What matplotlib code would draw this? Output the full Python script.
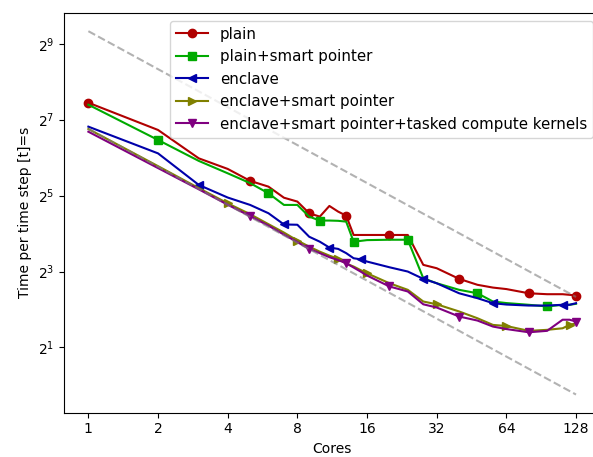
import numpy as np
import matplotlib
matplotlib.use("Agg")
import matplotlib.pyplot as plt

OUT_FILE = "out.png"

cores = [1, 2, 3, 4, 5, 6, 7, 8, 9, 10, 11, 12, 13, 14, 15, 16,
         20, 24, 28, 32, 40, 48, 56, 64, 80, 96, 112, 120, 128]

# time per time step in seconds
plain = [174.5, 106.1, 63.2, 52.1, 41.9, 37.7, 30.8, 28.7, 23.2, 21.8,
         26.5, 23.9, 22.2, 15.6, 15.6, 15.6, 15.6, 15.6, 9.04, 8.50,
         7.00, 6.28, 5.97, 5.81, 5.38, 5.29, 5.29, 5.23, 5.16]
plain_smart = [168.3, 88.4, 60.3, 48.1, 40.2, 33.4, 27.0, 27.0, 21.8, 20.3,
               20.3, 20.2, 19.9, 13.8, 14.0, 14.2, 14.3, 14.3, 7.08, 6.46,
               5.73, 5.38, 4.63, 4.50, 4.36, 4.23, 4.36, 4.36, 4.44]
enclave = [112.7, 69.2, 38.9, 30.9, 27.0, 23.2, 18.9, 18.8, 15.1, 13.8,
           12.4, 12.1, 11.2, 10.2, 10.0, 9.60, 8.65, 8.00, 7.00, 6.46,
           5.38, 4.92, 4.49, 4.38, 4.30, 4.30, 4.36, 4.36, 4.49]
enclave_smart = [108.0, 54.8, 36.7, 27.8, 22.8, 19.0, 16.3, 14.1, 12.6, 11.5,
                 10.7, 10.1, 9.26, 8.77, 8.22, 7.75, 6.46, 5.73, 4.63, 4.40,
                 3.86, 3.41, 3.02, 2.96, 2.71, 2.76, 2.84, 3.02, 3.11]
enclave_tasked = [102.8, 52.9, 35.9, 27.1, 22.0, 18.5, 15.7, 13.7, 12.1, 11.2,
                  10.4, 9.87, 9.31, 8.61, 8.00, 7.44, 6.09, 5.56, 4.40, 4.15,
                  3.52, 3.27, 2.93, 2.80, 2.64, 2.71, 3.32, 3.32, 3.21]

labels = ["plain", "plain+smart pointer", "enclave", "enclave+smart pointer",
          "enclave+smart pointer+tasked compute kernels"]

# ideal scaling guides: time at one core, divided by core count
ideal_upper_t1 = 644.0
ideal_lower_t1 = 108.4

x_ticks = [1, 2, 4, 8, 16, 32, 64, 128]


def main():
    fig = plt.figure(figsize=(5.93, 4.57), dpi=100)
    # axes runs past the right edge, the reference is cut off there
    ax = fig.add_axes([0.1079, 0.0969, 0.9046, 0.8746])

    series = [plain, plain_smart, enclave, enclave_smart, enclave_tasked]
    colors = ["#b00000", "#00aa00", "#0000aa", "#808000", "#800080"]
    markers = ["o", "s", "<", ">", "v"]

    for i, (vals, lab) in enumerate(zip(series, labels)):
        ax.plot(cores, vals, color=colors[i], marker=markers[i],
                markevery=(i, 4), label=lab)

    c = np.array([cores[0], cores[-1]], dtype=float)
    ax.plot(c, ideal_upper_t1 / c, "--", color="grey", alpha=0.6)
    ax.plot(c, ideal_lower_t1 / c, "--", color="grey", alpha=0.6)

    ax.set_xscale("log", base=2)
    ax.set_yscale("log", base=2)
    ax.set_xticks(x_ticks)
    ax.set_xticklabels([str(t) for t in x_ticks])
    ax.minorticks_off()

    ax.set_xlabel("Cores")
    ax.set_ylabel("Time per time step [t]=s")
    ax.legend(loc="upper right", fontsize=10.8, handlelength=2.1)

    fig.savefig(OUT_FILE, dpi=100)
    plt.close(fig)


if __name__ == "__main__":
    main()
